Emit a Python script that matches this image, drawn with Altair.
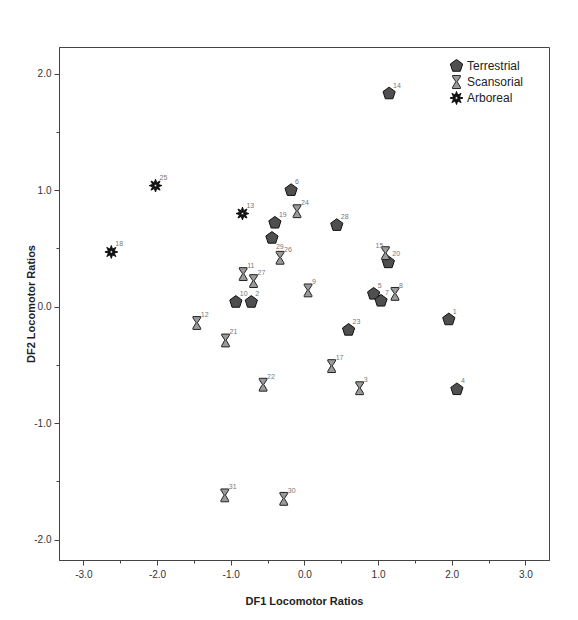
import altair as alt
import pandas as pd
import math

# ---- data ----
terr_id = ["14", "6", "19", "29", "28", "20", "5", "7", "10", "2", "23", "1", "4"]
terr_x = [1.15, -0.18, -0.40, -0.44, 0.44, 1.14, 0.94, 1.04, -0.93, -0.72, 0.60, 1.96, 2.07]
terr_y = [1.83, 1.00, 0.72, 0.59, 0.70, 0.38, 0.11, 0.05, 0.04, 0.04, -0.20, -0.11, -0.71]

scan_id = ["24", "26", "15", "11", "27", "9", "8", "12", "21", "22", "17", "3", "31", "30"]
scan_x = [-0.10, -0.33, 1.10, -0.83, -0.69, 0.05, 1.23, -1.46, -1.07, -0.56, 0.37, 0.75, -1.08, -0.28]
scan_y = [0.82, 0.42, 0.46, 0.28, 0.22, 0.14, 0.11, -0.14, -0.29, -0.67, -0.51, -0.70, -1.62, -1.65]

arb_id = ["25", "13", "18"]
arb_x = [-2.02, -0.84, -2.62]
arb_y = [1.04, 0.80, 0.47]

groups = ["Terrestrial", "Scansorial", "Arboreal"]
x_ticks = [-3.0, -2.5, -2.0, -1.5, -1.0, -0.5, 0.0, 0.5, 1.0, 1.5, 2.0, 2.5, 3.0]
y_ticks = [-2.0, -1.5, -1.0, -0.5, 0.0, 0.5, 1.0, 1.5, 2.0]

rows = []
for ids, xs, ys, g in [(terr_id, terr_x, terr_y, groups[0]),
                       (scan_id, scan_x, scan_y, groups[1]),
                       (arb_id, arb_x, arb_y, groups[2])]:
    for i, x, y in zip(ids, xs, ys):
        rows.append({"id": i, "x": x, "y": y, "type": g})
df = pd.DataFrame(rows)

# ---- symbol shapes ----
pentagon = "M0,-1 L0.951,-0.309 L0.588,0.809 L-0.588,0.809 L-0.951,-0.309 Z"
hourglass = ("M-0.6,-1 L0.6,-1 L0.6,-0.8 L0.1,-0.05 L0.6,0.8 L0.6,1 "
             "L-0.6,1 L-0.6,0.8 L-0.1,-0.05 L-0.6,-0.8 Z")
pts = []
n = 8
for k in range(2 * n):
    r = 1.0 if k % 2 == 0 else 0.48
    a = -math.pi / 2 + k * math.pi / n
    pts.append(f"{r*math.cos(a):.3f},{r*math.sin(a):.3f}")
star = "M" + " L".join(pts) + " Z"
hole = []
for k in range(12):
    a = -k * 2 * math.pi / 12
    hole.append(f"{0.2*math.cos(a):.3f},{0.2*math.sin(a):.3f}")
star += " M" + " L".join(hole) + " Z"

W, H = 490, 513
xscale = alt.Scale(domain=[-3.33, 3.32], nice=False, zero=False)
yscale = alt.Scale(domain=[-2.175, 2.23], nice=False, zero=False)

tick_cond = {"condition": {"test": "datum.value % 1 === 0", "value": 5}, "value": 3}
lab_expr = "datum.value % 1 === 0 ? replace(format(datum.value, '.1f'), '\u2212', '-') : ''"

xaxis = alt.Axis(values=x_ticks, labelExpr=lab_expr, tickSize=tick_cond,
                 title="DF1 Locomotor Ratios", labelPadding=4, titlePadding=16)
yaxis = alt.Axis(values=y_ticks, labelExpr=lab_expr, tickSize=tick_cond,
                 title="DF2 Locomotor Ratios", labelPadding=3, titlePadding=-3)

base = alt.Chart(df)
leg = alt.Legend(title=None, orient="none", legendX=390, legendY=12)

points = base.mark_point(filled=True, strokeWidth=1, opacity=1, size=165).encode(
    x=alt.X("x:Q", scale=xscale, axis=xaxis),
    y=alt.Y("y:Q", scale=yscale, axis=yaxis),
    shape=alt.Shape("type:N", scale=alt.Scale(domain=groups, range=[pentagon, hourglass, star]), legend=leg),
    fill=alt.Fill("type:N", scale=alt.Scale(domain=groups, range=["#4f4f4f", "#9a9a9a", "#111111"]), legend=leg),
    stroke=alt.Stroke("type:N", scale=alt.Scale(domain=groups, range=["#111111", "#222222", "#111111"]), legend=leg),
)

tstyle = dict(baseline="middle", fontSize=7, color="#777777", fill="#777777", font="Liberation Sans")

std = base.transform_filter("datum.id != '29' && datum.id != '15'").mark_text(
    align="left", dx=4, dy=-8, **tstyle
).encode(x="x:Q", y="y:Q", text="id:N")

lab29 = base.transform_filter("datum.id == '29'").mark_text(
    align="left", dx=4, dy=9, **tstyle
).encode(x="x:Q", y="y:Q", text="id:N")

lab15 = base.transform_filter("datum.id == '15'").mark_text(
    align="right", dx=-2, dy=-7, **tstyle
).encode(x="x:Q", y="y:Q", text="id:N")

chart = alt.layer(points, std, lab29, lab15).properties(
    width=W, height=H,
    autosize=alt.AutoSizeParams(type="none"),
    padding={"left": 51, "top": 39, "right": 21, "bottom": 52},
).configure_view(
    stroke="#444444", strokeWidth=1
).configure_axis(
    grid=False, domainColor="#444444", tickColor="#444444",
    labelColor="#333333", labelFont="Liberation Sans", labelFontSize=10,
    titleFont="Liberation Sans", titleFontSize=11, titleFontWeight="bold", titleColor="#222222",
    labelOverlap=False
).configure_legend(
    labelFont="Liberation Sans", labelFontSize=12, labelColor="#222222",
    symbolSize=170, symbolStrokeWidth=1, rowPadding=2, clipHeight=14, labelOffset=3, padding=0
)

chart.save("out.html", embed_options={"renderer": "svg", "actions": False})
